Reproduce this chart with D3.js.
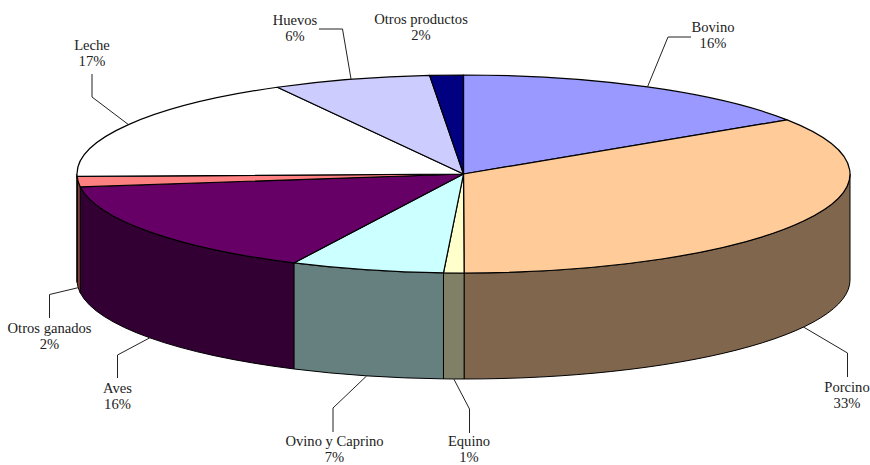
<!DOCTYPE html>
<html>
<head>
<meta charset="utf-8">
<script src="https://cdn.jsdelivr.net/npm/d3@7"></script>
<style>
    body { margin: 0; background: #fff; }
    text { font-family: "Liberation Serif", serif; font-size: 14.6px; fill: #222; text-anchor: middle; }
</style>
</head>
<body>
<div class="container"></div>
<script>
// values, clockwise from 12 o'clock
const categories = ['Bovino', 'Porcino', 'Equino', 'Ovino y Caprino', 'Aves', 'Otros ganados', 'Leche', 'Huevos', 'Otros productos']
const shares = [15.8, 34.2, 0.85, 6.41, 15.69, 1.7, 17.4, 6.6, 1.4]
const percentLabels = ['16%', '33%', '1%', '7%', '16%', '2%', '17%', '6%', '2%']
const colours = ['#9999ff', '#ffcc99', '#ffffcc', '#ccffff', '#660066', '#ff8080', '#ffffff', '#ccccff', '#000080']

let width = 870
let height = 465
let cx = 463.5
let cy = 174
let rx = 386.5
let ry = 99
let depth = 106

// label centre + baseline of first line, elbow of the leader line, start of the leader line
let labelPos = {
    'Bovino': { x: 713, y: 32, elbow: [668, 37], start: [691, 37] },
    'Porcino': { x: 847, y: 392, elbow: [847.5, 353], start: [847.5, 377] },
    'Equino': { x: 469, y: 446, elbow: [469.5, 409], start: [469.5, 433] },
    'Ovino y Caprino': { x: 334.5, y: 446, elbow: [333, 408], start: [333, 432] },
    'Aves': { x: 117.5, y: 393, elbow: [117.5, 355], start: [117.5, 378] },
    'Otros ganados': { x: 49.5, y: 333, elbow: [49.5, 294.5], start: [49.5, 318] },
    'Leche': { x: 92, y: 50, elbow: [92, 97], start: [92, 74] },
    'Huevos': { x: 295, y: 25, elbow: [342.5, 29], start: [319, 29] },
    'Otros productos': { x: 421, y: 24 }
}

let svg = d3.select('.container')
    .append('svg')
    .attr('width', width)
    .attr('height', height)
    .style('display', 'block')

let pie = d3.pie().sort(null).value((d, i) => shares[i])
let slices = pie(categories)

function point(a, dy = 0) {
    return [cx + rx * Math.sin(a), cy - ry * Math.cos(a) + dy]
}

// side wall between two angles, only the front half (90 to 270 deg) shows
function wall(d) {
    let a0 = Math.max(d.startAngle, Math.PI / 2)
    let a1 = Math.min(d.endAngle, Math.PI * 3 / 2)
    if (a1 <= a0) return null
    let [x0, y0] = point(a0)
    let [x1, y1] = point(a1)
    return `M${x0},${y0}A${rx},${ry} 0 0 1 ${x1},${y1}L${x1},${y1 + depth}A${rx},${ry} 0 0 0 ${x0},${y0 + depth}Z`
}

// walls are the slice colour at half brightness
function shade(colour) {
    let c = d3.rgb(colour)
    return d3.rgb(c.r / 2, c.g / 2, c.b / 2)
}

svg.append('g')
    .selectAll('path')
    .data(slices)
    .enter()
    .append('path')
    .attr('d', wall)
    .attr('fill', (d, i) => shade(colours[i]))
    .attr('stroke', '#000')
    .attr('stroke-width', 1)
    .attr('stroke-linejoin', 'round')

// top face: plain arcs squashed into an ellipse
let arc = d3.arc().innerRadius(0).outerRadius(rx)

svg.append('g')
    .attr('transform', `translate(${cx},${cy}) scale(1,${ry / rx})`)
    .selectAll('path')
    .data(slices)
    .enter()
    .append('path')
    .attr('d', arc)
    .attr('fill', (d, i) => colours[i])
    .attr('stroke', '#000')
    .attr('stroke-width', 1.2)
    .attr('stroke-linejoin', 'round')
    .attr('vector-effect', 'non-scaling-stroke')

// leader lines end on the middle of each slice's outer edge
let leaders = svg.append('g')
let labels = svg.append('g')

slices.forEach((d, i) => {
    let pos = labelPos[categories[i]]
    let mid = (d.startAngle + d.endAngle) / 2
    let front = Math.cos(mid) < 0
    if (pos.elbow) {
        leaders.append('path')
            .attr('d', d3.line()([pos.start, pos.elbow, point(mid, front ? depth : 0)]))
            .attr('fill', 'none')
            .attr('stroke', '#222')
            .attr('stroke-width', 1)
    }
    let text = labels.append('text').attr('x', pos.x).attr('y', pos.y)
    text.append('tspan').attr('x', pos.x).text(categories[i])
    text.append('tspan').attr('x', pos.x).attr('dy', 16).text(percentLabels[i])
})
</script>
</body>
</html>
